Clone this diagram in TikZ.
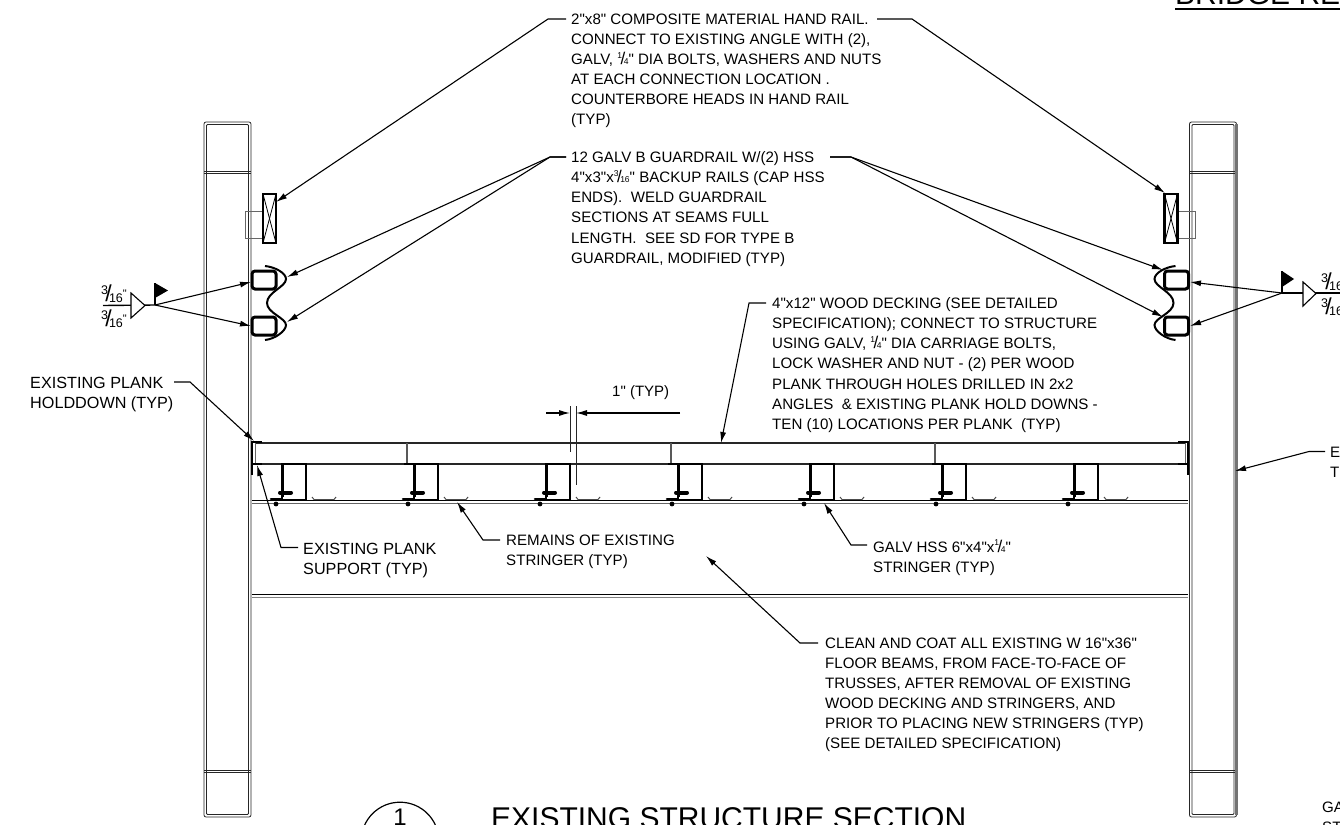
\documentclass[tikz,border=0pt]{standalone}
\usepackage{fontspec}
\setmainfont{Liberation Sans}[Ligatures=TeXOff]
\usetikzlibrary{arrows.meta}
\newcommand{\fract}[2]{\raisebox{0.42em}{\fontsize{8.5}{9}\selectfont #1}\kern-0.1em{\fontsize{17}{18}\selectfont /}\kern-0.1em{\fontsize{8.5}{9}\selectfont #2}}
\newcommand{\weldfrac}[2]{\fontsize{12.5}{12.5}\selectfont\raisebox{0.55em}{#1}\kern-0.22em{\fontsize{23}{23}\selectfont /}\kern-0.22em\raisebox{-0.1em}{#2}}
\begin{document}
\begin{tikzpicture}[x=1pt,y=-1pt,
                    note/.style={anchor=north west,inner sep=0pt,align=left,font=\fontsize{15.1}{20.1}\selectfont},
                    bignote/.style={note,font=\fontsize{16.2}{20}\selectfont},
                    tag/.style={anchor=west,inner sep=0pt,font=\fontsize{15}{20}\selectfont},
                    leader/.style={draw,line width=1.1pt,-{Latex[length=11pt,width=6pt]}},
                    thinline/.style={draw,line width=0.8pt,black!85},
                    steelline/.style={draw,line width=2.4pt,black},
                    railline/.style={draw,line width=3pt,black,rounded corners=3pt}
                ]
    \useasboundingbox (0,0) rectangle (1340,824);

    % columns and rails, left then mirrored
    \foreach \side in {1,-1}
        {
        \begin{scope}[xshift={(1-\side)*720.25pt},xscale=\side]
            \draw[thinline,rounded corners=2pt] (204,122) rectangle (251,817);
            \draw[thinline,rounded corners=1pt] (206.5,124.5) rectangle (248.5,814.5);
            \draw[thinline] (204,171.5) -- (251,171.5);
            \draw[thinline] (204,173.5) -- (251,173.5);
            \draw[thinline] (204,770) -- (251,770);
            \draw[thinline] (204,772.5) -- (251,772.5);
            \draw[draw=black!60,line width=0.8pt] (263,211) -- (245,211) -- (245,238) -- (263,238);
            \draw[steelline] (263,194) rectangle (276,243);
            \draw[line width=0.8pt] (263,194) -- (276,243);
            \draw[line width=0.8pt] (276,194) -- (263,243);
            \draw[railline] (252,271) rectangle (276,289);
            \draw[railline] (252,317) rectangle (276,335);
            \draw[draw,line width=2pt,black] (265,266) .. controls (275,267) and (286,273) .. (286,279)
                .. controls (286,287) and (267,292) .. (267,303)
                .. controls (267,313) and (286,318) .. (286,325)
                .. controls (286,331) and (275,339) .. (265,340);
        \end{scope}
        }
    \draw[draw=black!55,line width=2.2pt] (1236.5,124) -- (1236.5,815);

    % deck
    \draw[line width=1.5pt,black!85] (255,443) -- (1186,443);
    \draw[line width=1.5pt,black!85] (255,464) -- (1186,464);
    \draw[draw=black!60,line width=1pt] (255,443) -- (255,464);
    \draw[draw=black!60,line width=1pt] (1185,443) -- (1185,464);
    \draw[steelline] (252,441) -- (252,475);
    \draw[steelline] (252,442) -- (262,442);
    \draw[steelline] (252,464) -- (262,464);
    \draw[steelline] (1188,441) -- (1188,475);
    \draw[steelline] (1178,442) -- (1188,442);
    \draw[steelline] (1178,464) -- (1188,464);
    \foreach \i in {407,671,935}
        {
        \draw[draw=black!65,line width=1.2pt] (\i,443) -- (\i,464);
        \draw[line width=1.6pt] (\i-3,464) -- (\i+7,464);
        }

    % floor beam
    \draw[line width=0.9pt] (252,500.5) -- (1188,500.5);
    \draw[draw=black!60,line width=0.9pt] (252,503.5) -- (1188,503.5);
    \draw[line width=0.9pt] (252,594) -- (1188,594);
    \draw[draw=black!50,line width=0.9pt] (252,597) -- (1188,597);

    % stringers
    \foreach \i in {0,...,6}
        {
        \begin{scope}[xshift={\i*132pt}]
            \draw[steelline] (282,464) rectangle (306,500);
            \draw[line width=3pt] (282,464) -- (282,497);
            \draw[line width=4pt,line cap=round] (280,492.5) -- (291,492.5);
            \draw[line width=2.6pt,line cap=round] (271,499) -- (281,499);
            \fill (276,504) circle (2.4);
            \draw[draw=black!70,line width=1pt] (312,497) -- (314,499.5) -- (334,499.5) -- (336,497);
        \end{scope}
        }

    % 1 inch dimension
    \coordinate (gapa) at (570,413);
    \coordinate (gapb) at (576,413);
    \coordinate (gapc) at (546,413);
    \coordinate (gapd) at (680,413);
    \draw[thinline] (570,406) -- (570,452);
    \draw[thinline] (576,406) -- (576,485);
    \draw[leader] (gapc) -- (gapa);
    \draw[leader] (gapd) -- (gapb);
    \node[tag] (gaplabel) at (612,393) {1" (TYP)};

    % notes
    \node[note] (railnote) at (571,13.5) {2"x8" COMPOSITE MATERIAL HAND RAIL.\\
        CONNECT TO EXISTING ANGLE WITH (2),\\
        GALV, \fract{1}{4}" DIA BOLTS, WASHERS AND NUTS\\
        AT EACH CONNECTION LOCATION .\\
        COUNTERBORE HEADS IN HAND RAIL\\
        (TYP)};
    \node[note] (guardnote) at (571,151.5) {12 GALV B GUARDRAIL W/(2) HSS\\
        4"x3"x\fract{3}{16}" BACKUP RAILS (CAP HSS\\
        ENDS).\ \ WELD GUARDRAIL\\
        SECTIONS AT SEAMS FULL\\
        LENGTH.\ \ SEE SD FOR TYPE B\\
        GUARDRAIL, MODIFIED (TYP)};
    \node[note] (decknote) at (772,297.5) {4"x12" WOOD DECKING (SEE DETAILED\\
        SPECIFICATION); CONNECT TO STRUCTURE\\
        USING GALV, \fract{1}{4}" DIA CARRIAGE BOLTS,\\
        LOCK WASHER AND NUT - (2) PER WOOD\\
        PLANK THROUGH HOLES DRILLED IN 2x2\\
        ANGLES\ \ \& EXISTING PLANK HOLD DOWNS -\\
        TEN (10) LOCATIONS PER PLANK\ \ (TYP)};
    \node[bignote] (holdnote) at (30,376.5) {EXISTING PLANK\\HOLDDOWN (TYP)};
    \node[bignote] (supportnote) at (303,542.5) {EXISTING PLANK\\SUPPORT (TYP)};
    \node[note] (remainsnote) at (506,534.5) {REMAINS OF EXISTING\\STRINGER (TYP)};
    \node[note] (hssnote) at (873,539.5) {GALV HSS 6"x4"x\fract{1}{4}"\\STRINGER (TYP)};
    \node[note] (cleannote) at (825,637.5) {CLEAN AND COAT ALL EXISTING W 16"x36"\\
        FLOOR BEAMS, FROM FACE-TO-FACE OF\\
        TRUSSES, AFTER REMOVAL OF EXISTING\\
        WOOD DECKING AND STRINGERS, AND\\
        PRIOR TO PLACING NEW STRINGERS (TYP)\\
        (SEE DETAILED SPECIFICATION)};
    \node[note] (trussnote) at (1330,446.5) {E\\T};
    \node[note] (gansnote) at (1322,801.5) {GA\\ST};

    % arrow targets
    \coordinate (railleft) at (276,202);
    \coordinate (railright) at (1165,193);
    \coordinate (guardlefta) at (287,277);
    \coordinate (guardleftb) at (287,322);
    \coordinate (guardrighta) at (1163,270);
    \coordinate (guardrightb) at (1163,317);
    \coordinate (deckend) at (721,443);
    \coordinate (holdend) at (254,441);
    \coordinate (supportend) at (257,465);
    \coordinate (remainsend) at (457,502);
    \coordinate (hssend) at (824,503);
    \coordinate (cleanend) at (706,556);
    \coordinate (trussend) at (1235,471);

    \draw[leader] ([shift={(-5,5.5)}]railnote.north west) -- ++(-18,0) -- (railleft);
    \draw[leader] ([shift={(306,5.5)}]railnote.north west) -- ++(35,0) -- (railright);
    \draw[leader] ([shift={(-5,5.5)}]guardnote.north west) -- ++(-16,0) -- (guardlefta);
    \draw[leader] ([shift={(-5,5.5)}]guardnote.north west) -- ++(-16,0) -- (guardleftb);
    \draw[leader] ([shift={(259,5.5)}]guardnote.north west) -- ++(21,0) -- (guardrighta);
    \draw[leader] ([shift={(259,5.5)}]guardnote.north west) -- ++(21,0) -- (guardrightb);
    \draw[leader] ([shift={(-6,5.5)}]decknote.north west) -- ++(-17,0) -- (deckend);
    \draw[leader] ([shift={(144,5.5)}]holdnote.north west) -- ++(16,0) -- (holdend);
    \draw[leader] ([shift={(-5,5)}]supportnote.north west) -- ++(-17,0) -- (supportend);
    \draw[leader] ([shift={(-6,5.5)}]remainsnote.north west) -- ++(-17,0) -- (remainsend);
    \draw[leader] ([shift={(-6,5.5)}]hssnote.north west) -- ++(-16,0) -- (hssend);
    \draw[leader] ([shift={(-7,5.5)}]cleannote.north west) -- ++(-18,0) -- (cleanend);
    \draw[leader] ([shift={(-5,5)}]trussnote.north west) -- ++(-16,0) -- (trussend);

    % weld symbols
    \coordinate (weldlefta) at (251,282);
    \coordinate (weldleftb) at (251,326);
    \coordinate (weldrighta) at (1190,282);
    \coordinate (weldrightb) at (1190,326);
    \coordinate (weldleft) at (155,305);
    \coordinate (weldright) at (1282,293);
    \draw[leader] (weldleft) -- (weldlefta);
    \draw[leader] (weldleft) -- (weldleftb);
    \draw[leader] (weldright) -- (weldrighta);
    \draw[leader] (weldright) -- (weldrightb);
    \draw[line width=1.4pt] (103,305.5) -- (weldleft);
    \draw[line width=1.1pt,fill=white] (131,293) -- (145,305.5) -- (131,318) -- cycle;
    \draw[line width=1.1pt] (weldleft) -- (155,283);
    \fill (155,283) -- (168,290.5) -- (155,298) -- cycle;
    \draw[line width=1.2pt] (weldright) -- (1340,293);
    \draw[line width=1.1pt,fill=white] (1303,282) -- (1316,293.5) -- (1303,306) -- cycle;
    \draw[line width=1.1pt] (weldright) -- (1282,271);
    \fill (1282,271) -- (1294,279) -- (1282,287) -- cycle;
    \node[anchor=center,inner sep=0pt] (weldtagla) at (114,294) {\weldfrac{3}{16}\raisebox{0.3em}{\fontsize{11}{11}\selectfont"}};
    \node[anchor=center,inner sep=0pt] (weldtaglb) at (114,319) {\weldfrac{3}{16}\raisebox{0.3em}{\fontsize{11}{11}\selectfont"}};
    \node[anchor=west,inner sep=0pt] (weldtagra) at (1321,282) {\weldfrac{3}{16}};
    \node[anchor=west,inner sep=0pt] (weldtagrb) at (1321,307) {\weldfrac{3}{16}};

    % title and clipped heading
    \node[circle,draw,line width=1.2pt,minimum size=77.6pt,inner sep=0pt] (secmark) at (400,841) { };
    \node[anchor=center,inner sep=0pt,font=\fontsize{24}{24}\selectfont] (secnum) at (400,817) {1};
    \node[anchor=base west,inner sep=0pt,font=\fontsize{30}{30}\selectfont] (sectitle) at (491,828) {EXISTING STRUCTURE SECTION};
    \node[anchor=base west,inner sep=0pt,font=\fontsize{30}{30}\selectfont] (bridgehead) at (1175,5) {BRIDGE RE};
    \coordinate (headend) at (1340,9);
    \draw[line width=2pt] ([yshift=-4pt]bridgehead.base west) -- (headend);
\end{tikzpicture}
\end{document}
